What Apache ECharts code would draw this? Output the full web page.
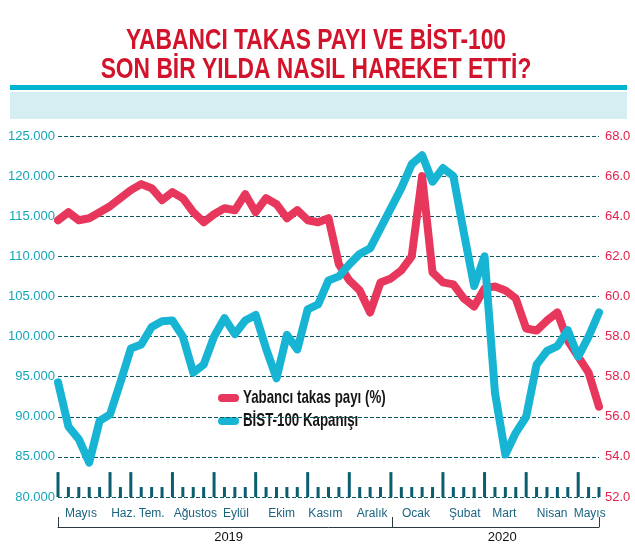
<!DOCTYPE html>
<html>
<head>
<meta charset="utf-8">
<script src="https://cdn.jsdelivr.net/npm/echarts@6/dist/echarts.min.js"></script>
<style>
  html, body { margin: 0; padding: 0; background: #ffffff; }
  #main { width: 635px; height: 553px; }
</style>
</head>
<body>
<div id="main"></div>
<script>
var SANS = "'Liberation Sans', Arial, sans-serif";

// haftalık veriler (Mayıs 2019 - Mayıs 2020)
var weeks = [];
for (var i = 1; i <= 53; i++) weeks.push('H' + i);

var bist = [94300, 88800, 87200, 84300, 89500, 90300, 94300, 98500, 99000, 101200,
            101900, 102000, 100000, 95500, 96500, 100000, 102300, 100300, 102000, 102700,
            98500, 94800, 100200, 98400, 103400, 104000, 107000, 107500, 109000, 110300,
            111000, 113500, 116000, 118500, 121500, 122600, 119300, 121000, 120000, 113000,
            106300, 110000, 93000, 85300, 88000, 90000, 96500, 98200, 98800, 100800,
            97500, 100000, 103000];

var takas = [63.8, 64.2, 63.8, 63.9, 64.2, 64.5, 64.9, 65.3, 65.6, 65.4,
             64.8, 65.2, 64.9, 64.2, 63.7, 64.1, 64.4, 64.3, 65.1, 64.2,
             64.9, 64.6, 63.9, 64.3, 63.8, 63.7, 63.9, 61.6, 60.8, 60.3,
             59.2, 60.7, 60.9, 61.3, 62.0, 66.0, 61.2, 60.7, 60.6, 59.9,
             59.5, 60.4, 60.5, 60.3, 59.9, 58.4, 58.3, 58.8, 59.2, 57.8,
             57.0, 56.2, 54.5];

// sağ eksen etiketleri (grafikte yazıldığı gibi)
var rightTicks = ['52.0', '54.0', '56.0', '58.0', '58.0', '60.0', '62.0', '64.0', '66.0', '68.0'];

// ay etiketleri ve hafta konumları
var monthLabels = ['Mayıs', 'Haz.', 'Tem.', 'Ağustos', 'Eylül', 'Ekim', 'Kasım', 'Aralık', 'Ocak', 'Şubat', 'Mart', 'Nisan', 'Mayıs'];
var monthPos = [2.2, 6.3, 9.0, 13.2, 17.1, 21.5, 25.7, 30.2, 34.4, 39.1, 42.9, 47.5, 51.1];
var monthTicks = [0, 5, 7, 11, 15, 19, 24, 28, 32, 37, 41, 45, 50];

var years = ['2019', '2020'];
var yearPos = [16.4, 42.7];
var yearBreaks = [0, 32.1, 52];

var names = ['Yabancı takas payı (%)', 'BİST-100 Kapanışı'];
var colors = ['#e8375c', '#18b4d4'];

var tickBars = weeks.map(function (w, i) {
    return monthTicks.indexOf(i) >= 0 ? 1 : 0.4;
});

function thousands(v) {
    return String(v).replace(/\B(?=(\d{3})+(?!\d))/g, '.');
}

var dom = document.getElementById('main');
var myChart = echarts.init(dom);

var option = {
    backgroundColor: '#ffffff',
    animation: false,
    graphic: [
        // başlık (dar yazı için yatay ölçek)
        { type: 'text', x: 316, y: 41, scaleX: 0.76,
          style: { text: 'YABANCI TAKAS PAYI VE BİST-100', fontFamily: SANS, fontWeight: 'bold', fontSize: 30,
                   fill: '#d2132b', align: 'center', verticalAlign: 'middle' } },
        { type: 'text', x: 316, y: 70, scaleX: 0.76,
          style: { text: 'SON BİR YILDA NASIL HAREKET ETTİ?', fontFamily: SANS, fontWeight: 'bold', fontSize: 30,
                   fill: '#d2132b', align: 'center', verticalAlign: 'middle' } },
        { type: 'rect', shape: { x: 10, y: 85, width: 617, height: 5 }, style: { fill: '#00b4d0' } },
        { type: 'rect', shape: { x: 10, y: 92, width: 617, height: 27 }, style: { fill: '#d5eef2' } },
        // açıklama
        { type: 'rect', shape: { x: 218, y: 394, width: 21, height: 8, r: 4 }, style: { fill: colors[0] } },
        { type: 'text', x: 243, y: 398, scaleX: 0.7,
          style: { text: names[0], fontFamily: SANS, fontWeight: 'bold', fontSize: 19, fill: '#151515', verticalAlign: 'middle' } },
        { type: 'rect', shape: { x: 218, y: 417, width: 21, height: 8, r: 4 }, style: { fill: colors[1] } },
        { type: 'text', x: 243, y: 421, scaleX: 0.7,
          style: { text: names[1], fontFamily: SANS, fontWeight: 'bold', fontSize: 19, fill: '#151515', verticalAlign: 'middle' } }
    ],
    grid: { left: 58, right: 36, top: 136, bottom: 56 },
    xAxis: [
        {
            type: 'category',
            data: weeks,
            boundaryGap: false,
            axisLine: { show: false },
            axisTick: { show: false },
            axisLabel: { show: false }
        },
        {
            type: 'value',
            min: 0, max: 52,
            position: 'bottom',
            axisLine: { show: false },
            axisTick: { show: false },
            splitLine: { show: false },
            axisLabel: {
                customValues: monthPos,
                formatter: function (v) { return monthLabels[monthPos.indexOf(v)]; },
                margin: 11,
                fontFamily: SANS,
                fontSize: 12,
                color: '#1a6480'
            }
        },
        {
            type: 'value',
            min: 0, max: 52,
            position: 'bottom',
            offset: 30,
            axisLine: { show: true, lineStyle: { color: '#2b3a40', width: 1 } },
            axisTick: { show: true, inside: true, length: 10, customValues: yearBreaks, lineStyle: { color: '#2b3a40' } },
            splitLine: { show: false },
            axisLabel: {
                customValues: yearPos,
                formatter: function (v) { return years[yearPos.indexOf(v)]; },
                margin: 4,
                fontFamily: SANS,
                fontSize: 13,
                color: '#111111'
            }
        }
    ],
    yAxis: [
        {
            type: 'value',
            min: 80000, max: 125000, interval: 5000,
            axisLine: { show: false },
            axisTick: { show: false },
            axisLabel: {
                margin: 3,
                fontFamily: SANS,
                fontSize: 13,
                color: '#16a7b9',
                formatter: thousands
            },
            splitLine: {
                show: true,
                lineStyle: { color: '#0d5a63', type: [4, 2], width: 1 }
            }
        },
        {
            type: 'value',
            min: 50, max: 68, interval: 2,
            position: 'right',
            axisLine: { show: false },
            axisTick: { show: false },
            splitLine: { show: false },
            axisLabel: {
                margin: 6,
                fontFamily: SANS,
                fontSize: 13,
                color: '#e0234f',
                formatter: function (v) { return rightTicks[Math.round((v - 50) / 2)]; }
            }
        },
        {
            type: 'value',
            min: 0, max: 14.5,
            show: false
        }
    ],
    series: [
        {
            name: 'ticks',
            type: 'bar',
            yAxisIndex: 2,
            barWidth: 3,
            silent: true,
            itemStyle: { color: '#0b5d70' },
            data: tickBars
        },
        {
            name: names[0],
            type: 'line',
            yAxisIndex: 1,
            data: takas,
            symbol: 'none',
            itemStyle: { color: colors[0] },
            lineStyle: { width: 8, color: colors[0], cap: 'round', join: 'round' }
        },
        {
            name: names[1],
            type: 'line',
            yAxisIndex: 0,
            data: bist,
            symbol: 'none',
            itemStyle: { color: colors[1] },
            lineStyle: { width: 8, color: colors[1], cap: 'round', join: 'round' }
        }
    ]
};

myChart.setOption(option);
window.addEventListener('resize', function () { myChart.resize(); });
</script>
</body>
</html>
